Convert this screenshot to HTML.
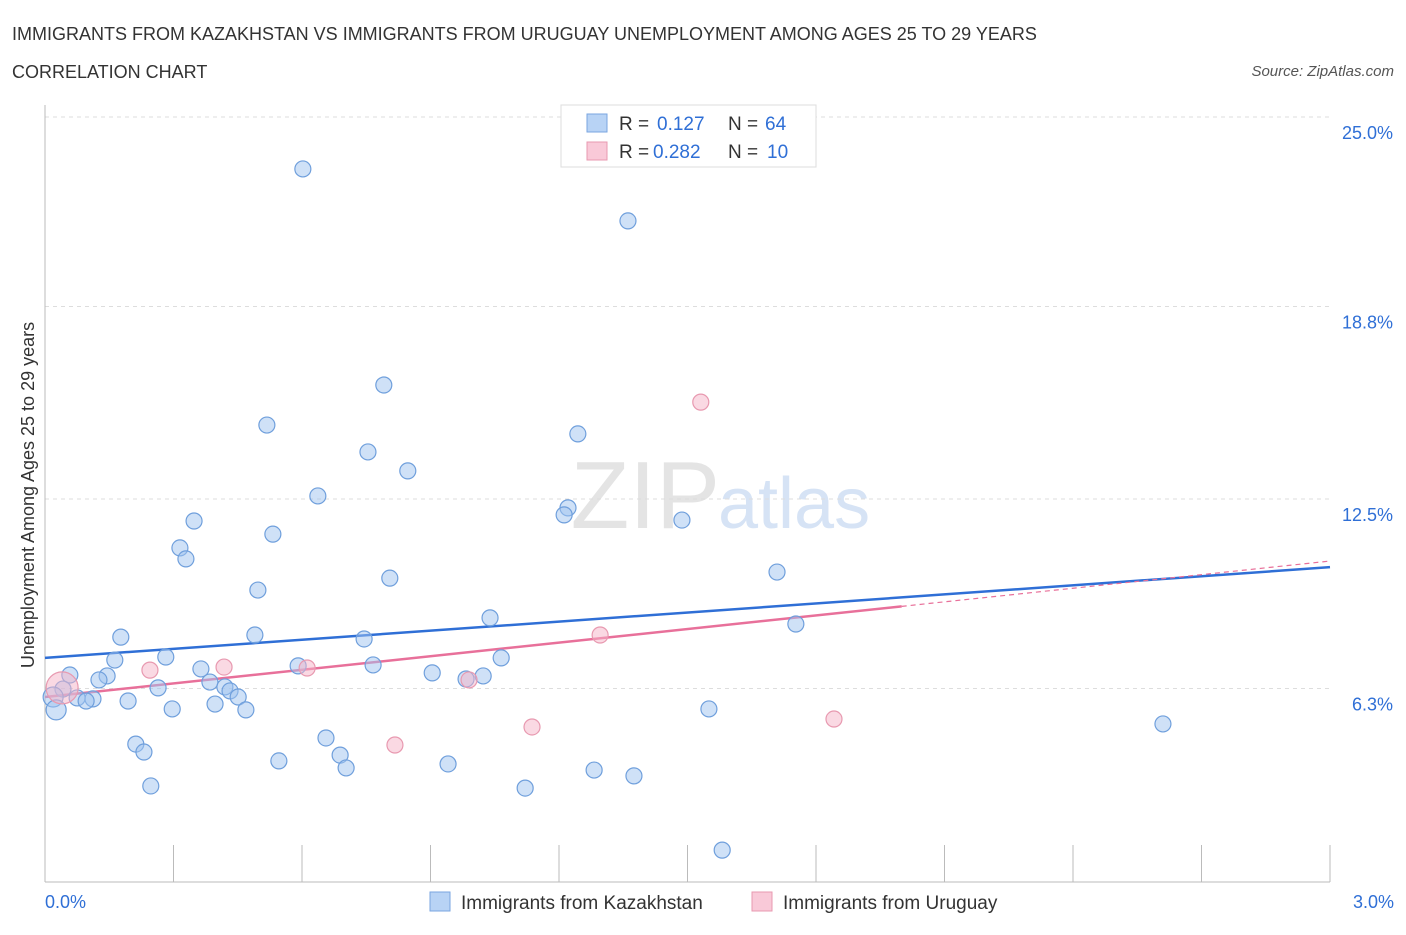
<!DOCTYPE html>
<html><head><meta charset="utf-8"><style>
body{margin:0;background:#fff;font-family:"Liberation Sans",sans-serif;}
svg text{font-family:"Liberation Sans",sans-serif;}
</style></head><body>
<svg width="1406" height="930" viewBox="0 0 1406 930">
<text x="12" y="40" font-size="18" fill="#333">IMMIGRANTS FROM KAZAKHSTAN VS IMMIGRANTS FROM URUGUAY UNEMPLOYMENT AMONG AGES 25 TO 29 YEARS</text>
<text x="12" y="78" font-size="18" fill="#333">CORRELATION CHART</text>
<text x="1394" y="76" font-size="15" fill="#555" font-style="italic" text-anchor="end">Source: ZipAtlas.com</text>
<text x="720" y="528" font-size="96" fill="#e4e4e4" text-anchor="end" font-family="Liberation Serif">ZIP</text>
<text x="718" y="528" font-size="72" fill="#d6e3f5">atlas</text>
<g id="grid"></g><g id="axes"></g><g id="lines"></g><g id="pts"></g>
<g>
<rect x="561" y="105" width="255" height="62" fill="#fff" stroke="#ddd"/>
<rect x="587" y="114" width="20" height="18" fill="#b8d3f5" stroke="#7aa6e0"/>
<text x="619" y="130" font-size="19" fill="#333">R = </text><text x="657" y="130" font-size="19" fill="#2f6fd6">0.127</text>
<text x="728" y="130" font-size="19" fill="#333">N = </text><text x="765" y="130" font-size="19" fill="#2f6fd6">64</text>
<rect x="587" y="142" width="20" height="18" fill="#f9c9d8" stroke="#e899b0"/>
<text x="619" y="158" font-size="19" fill="#333">R = </text><text x="653" y="158" font-size="19" fill="#2f6fd6">0.282</text>
<text x="728" y="158" font-size="19" fill="#333">N = </text><text x="767" y="158" font-size="19" fill="#2f6fd6">10</text>
</g>
<text transform="translate(34,495) rotate(-90)" font-size="18" fill="#333" text-anchor="middle">Unemployment Among Ages 25 to 29 years</text>
<text x="45" y="908" font-size="18" fill="#2f6fd6">0.0%</text>
<text x="1394" y="908" font-size="18" fill="#2f6fd6" text-anchor="end">3.0%</text>
<g>
<rect x="430" y="892" width="20" height="19" fill="#b8d3f5" stroke="#7aa6e0"/>
<text x="461" y="909" font-size="19" fill="#333">Immigrants from Kazakhstan</text>
<rect x="752" y="892" width="20" height="19" fill="#f9c9d8" stroke="#e899b0"/>
<text x="783" y="909" font-size="19" fill="#333">Immigrants from Uruguay</text>
</g>
</svg>
<script>
const yTicks=[6.3,12.5,18.8,25.0];
const yTickLabels=["6.3%","12.5%","18.8%","25.0%"];
const xTicks=[0,0.3,0.6,0.9,1.2,1.5,1.8,2.1,2.4,2.7,3.0];
const kazX=[0.602,1.361,0.791,0.518,1.244,0.754,0.847,0.637,1.221,1.212,1.487,0.348,0.532,0.315,0.329,0.805,1.709,0.497,1.039,1.753,0.177,0.490,0.745,0.282,0.163,1.065,0.591,0.766,0.364,0.904,1.023,0.983,0.058,0.145,0.126,0.385,0.264,0.420,0.042,0.432,0.075,0.112,0.096,0.451,0.194,0.397,0.019,0.026,0.297,0.469,1.550,2.610,0.212,0.656,0.231,0.689,0.546,0.941,0.703,1.282,1.375,0.247,1.121,1.581];
const kazY=[23.30,21.60,16.23,14.92,14.63,14.04,13.42,12.60,12.21,11.98,11.81,11.78,11.35,10.90,10.54,9.91,10.11,9.52,8.61,8.41,7.98,8.05,7.92,7.33,7.23,7.30,7.04,7.07,6.94,6.81,6.71,6.61,6.74,6.71,6.58,6.51,6.32,6.35,6.28,6.22,5.99,5.96,5.89,6.02,5.89,5.79,6.02,5.60,5.63,5.60,5.63,5.14,4.48,4.68,4.22,4.12,3.93,3.83,3.70,3.63,3.44,3.11,3.04,1.01];
const uruX=[1.531,1.296,0.418,0.245,0.612,0.990,0.040,0.817,1.137,1.842];
const uruY=[15.67,8.05,7.00,6.90,6.97,6.58,6.32,4.45,5.04,5.30];
const kazTrend=[7.30,10.27];
const uruTrend=[6.02,10.47];
const uruSolidEnd=2.0;
const NS="http://www.w3.org/2000/svg";
const X=v=>45+v/3*1285, Y=v=>881-v*30.56;
function mk(t,a,p){const e=document.createElementNS(NS,t);for(const k in a)e.setAttribute(k,a[k]);document.getElementById(p).appendChild(e);return e;}
yTicks.forEach((t,i)=>{
 const g=mk('line',{x1:45,x2:1330,y1:Y(t),y2:Y(t),stroke:'#ddd','stroke-dasharray':'4,4'},'grid');
 
 
 const l=mk('text',{x:1393,y:Y(t)+22,'font-size':18,fill:'#2f6fd6','text-anchor':'end'},'grid');
 l.textContent=yTickLabels[i];
 
 
});
mk('line',{x1:45,x2:45,y1:105,y2:882,stroke:'#bbb'},'axes');
mk('line',{x1:45,x2:1330,y1:882,y2:882,stroke:'#bbb'},'axes');
xTicks.forEach(t=>{
 const e=mk('line',{x1:X(t),x2:X(t),y1:845,y2:882,stroke:'#bbb'},'axes');
 
 
});
const kl=mk('line',{x1:X(0),y1:Y(kazTrend[0]),x2:X(3),y2:Y(kazTrend[1]),stroke:'#2f6fd6','stroke-width':2.5},'lines');


const uAt=x=>uruTrend[0]+(uruTrend[1]-uruTrend[0])*x/3;
const ul=mk('line',{x1:X(0),y1:Y(uruTrend[0]),x2:X(uruSolidEnd),y2:Y(uAt(uruSolidEnd)),stroke:'#e8709a','stroke-width':2.5},'lines');


const ud=mk('line',{x1:X(uruSolidEnd),y1:Y(uAt(uruSolidEnd)),x2:X(3),y2:Y(uruTrend[1]),stroke:'#e8709a','stroke-width':1.2,'stroke-dasharray':'5,4'},'lines');


kazX.forEach((x,i)=>{
 const c=mk('circle',{cx:X(x),cy:Y(kazY[i]),r:(i==46||i==47)?10:8,fill:'rgba(160,195,240,0.5)',stroke:'#6f9fdc','stroke-width':1.2},'pts');
 
 
});
uruX.forEach((x,i)=>{
 const c=mk('circle',{cx:X(x),cy:Y(uruY[i]),r:i==6?16:8,fill:'rgba(245,180,200,0.5)',stroke:'#e899b0','stroke-width':1.2},'pts');
 
 
});
</script>
</body></html>
